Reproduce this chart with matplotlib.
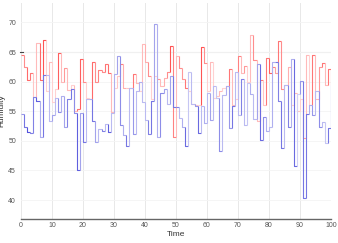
import numpy as np
import matplotlib
matplotlib.use('Agg')
import matplotlib.pyplot as plt
from matplotlib.collections import LineCollection
from matplotlib import rc

rc('font', **{'family': 'Liberation Sans', 'size': 6})

time = np.arange(101)

humid_red = [
    64.5, 62.5, 60.3, 61.5, 57.4, 66.6, 60.3, 67.0, 58.5, 63.4,
    56.5, 58.8, 64.8, 60.0, 62.3, 58.6, 59.5, 55.0, 55.3, 63.9,
    60.0, 57.3, 57.0, 63.4, 59.9, 62.0, 61.6, 63.0, 61.5, 54.8,
    59.0, 61.0, 62.9, 58.9, 58.9, 58.9, 61.3, 59.7, 58.5, 66.3,
    63.4, 61.0, 57.0, 61.0, 60.5, 59.2, 60.6, 61.7, 66.0, 50.6,
    64.3, 62.3, 60.5, 58.9, 58.5, 56.2, 56.0, 56.0, 65.8, 63.2,
    58.5, 63.4, 57.2, 57.5, 58.4, 59.0, 59.3, 62.1, 56.0, 57.0,
    64.4, 61.5, 62.7, 60.0, 67.9, 63.6, 53.3, 60.2, 56.0, 64.0,
    61.5, 62.4, 61.5, 66.8, 58.8, 59.5, 62.5, 56.0, 58.0, 55.0,
    57.0, 50.5, 64.5, 56.0, 64.5, 57.0, 62.5, 63.1, 59.4, 62.1,
    59.4]

humid_blue = [
    54.5, 52.4, 51.5, 51.3, 57.4, 56.7, 50.6, 61.2, 61.2, 53.3,
    54.4, 57.2, 54.8, 57.5, 52.3, 57.0, 58.7, 54.7, 45.0, 54.7,
    49.8, 57.0, 57.0, 53.3, 49.8, 52.0, 51.6, 52.9, 51.5, 54.7,
    61.3, 64.3, 52.7, 50.9, 49.1, 58.9, 51.1, 58.5, 60.0, 56.5,
    53.5, 51.1, 56.8, 69.8, 50.6, 58.0, 58.7, 56.2, 60.9, 55.7,
    55.7, 53.8, 52.3, 49.1, 61.6, 56.3, 55.9, 51.3, 55.9, 53.0,
    58.1, 53.6, 59.3, 57.2, 48.3, 57.8, 59.3, 52.2, 55.9, 61.6,
    54.4, 60.5, 52.7, 59.8, 57.9, 53.7, 63.0, 50.2, 54.0, 51.6,
    52.4, 63.4, 63.4, 56.8, 48.8, 59.5, 52.4, 63.8, 45.7, 57.9,
    60.1, 40.4, 54.5, 56.0, 54.4, 58.5, 52.4, 53.1, 49.6, 52.2,
    59.4]

# shade of each step (0 = pale, 1 = full colour)
red_level = [
    0.6, 0.5, 0.65, 0.6, 0.25, 0.3, 0.65, 0.75, 0.2, 0.3,
    0.2, 0.2, 0.7, 0.3, 0.45, 0.3, 0.2, 0.3, 0.6, 0.7,
    0.5, 0.2, 0.2, 0.65, 0.5, 0.55, 0.5, 0.6, 0.65, 0.3,
    0.2, 0.25, 0.55, 0.35, 0.25, 0.3, 0.6, 0.3, 0.2, 0.3,
    0.35, 0.5, 0.2, 0.2, 0.45, 0.3, 0.35, 0.5, 0.75, 0.55,
    0.3, 0.5, 0.45, 0.6, 0.2, 0.2, 0.25, 0.2, 0.75, 0.5,
    0.2, 0.3, 0.2, 0.25, 0.3, 0.2, 0.3, 0.6, 0.3, 0.2,
    0.55, 0.3, 0.45, 0.2, 0.3, 0.5, 0.3, 0.6, 0.25, 0.6,
    0.7, 0.55, 0.4, 0.6, 0.5, 0.3, 0.35, 0.2, 0.3, 0.25,
    0.2, 0.4, 0.3, 0.2, 0.6, 0.3, 0.45, 0.6, 0.3, 0.6,
    0.6]

blue_level = [
    0.45, 0.6, 0.75, 0.55, 0.55, 0.7, 0.35, 0.6, 0.3, 0.3,
    0.4, 0.3, 0.5, 0.35, 0.4, 0.55, 0.6, 0.5, 0.7, 0.4,
    0.6, 0.3, 0.35, 0.6, 0.4, 0.3, 0.55, 0.3, 0.7, 0.3,
    0.35, 0.4, 0.5, 0.35, 0.6, 0.3, 0.45, 0.3, 0.35, 0.3,
    0.3, 0.55, 0.6, 0.4, 0.35, 0.5, 0.4, 0.3, 0.4, 0.6,
    0.55, 0.3, 0.35, 0.65, 0.25, 0.3, 0.45, 0.65, 0.3, 0.35,
    0.3, 0.4, 0.3, 0.25, 0.5, 0.3, 0.35, 0.45, 0.6, 0.3,
    0.3, 0.55, 0.3, 0.25, 0.35, 0.3, 0.4, 0.65, 0.5, 0.35,
    0.3, 0.35, 0.6, 0.55, 0.6, 0.3, 0.55, 0.35, 0.65, 0.2,
    0.45, 0.6, 0.6, 0.35, 0.45, 0.3, 0.5, 0.3, 0.25, 0.6,
    0.6]


def step_segments(x, y):
    segs = []
    for i in range(len(y)):
        x1 = x[i + 1] if i + 1 < len(x) else x[i]
        if i == 0:
            segs.append([(x[i], y[i]), (x1, y[i])])
        else:
            segs.append([(x[i], y[i - 1]), (x[i], y[i]), (x1, y[i])])
    return segs


def shades(base, levels):
    base = np.array(matplotlib.colors.to_rgb(base))
    return [tuple(1 - lv * (1 - base)) for lv in levels]


fig = plt.figure(figsize=(3.38, 2.43), dpi=100)
ax = fig.add_axes([0.062, 0.099, 0.917, 0.889])
ax.set_xlim(0, 100)
ax.set_ylim(36.8, 73.3)

ax.set_xticks(np.arange(0, 101, 10))
ax.set_yticks(np.arange(40, 71, 5))
ax.tick_params(length=0, labelsize=5, labelcolor='#555555')
ax.tick_params(axis='y', pad=3.5)
ax.tick_params(axis='x', pad=2.5)
ax.grid(axis='x', color='#e8e8e8', lw=0.7)
ax.grid(axis='y', color='#f4f4f4', lw=0.6)
ax.set_axisbelow(True)
for s in ['left', 'right', 'top']:
    ax.spines[s].set_visible(False)
ax.spines['bottom'].set_color('#666666')
ax.spines['bottom'].set_linewidth(1.0)

ax.axhline(65, color='#dddddd', lw=0.8, zorder=0.5)
ax.plot([-0.4, 0.8], [65, 65], color='#444444', lw=0.8, clip_on=False)

ax.add_collection(LineCollection(step_segments(time, humid_red),
                                 colors=shades('#ff1a1a', red_level), lw=0.8))
ax.add_collection(LineCollection(step_segments(time, humid_blue),
                                 colors=shades('#1a1ad0', blue_level), lw=0.8))

ax.set_xlabel('Time', fontsize=6, color='#333333', labelpad=1)
ax.set_ylabel('Humidity', fontsize=6, color='#333333', labelpad=2)

fig.savefig('out.png', dpi=100)
